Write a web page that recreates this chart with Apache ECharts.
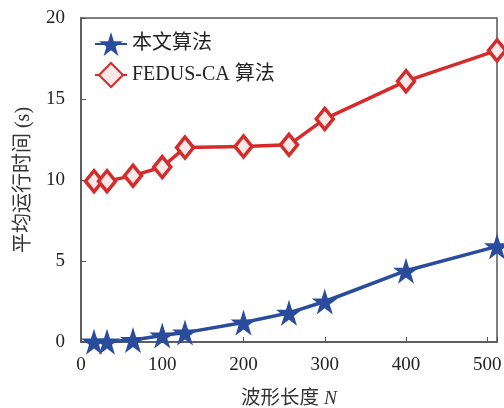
<!DOCTYPE html>
<html><head><meta charset="utf-8">
<script src="https://cdn.jsdelivr.net/npm/echarts@6/dist/echarts.min.js"></script>
<style>html,body{margin:0;padding:0;background:#fff}#c{width:504px;height:408px}</style>
</head><body><div id="c"></div>
<script>
const waveLengths = [16, 32, 64, 100, 128, 200, 256, 300, 400, 512];
const oursTime = [0.02, 0.02, 0.12, 0.4, 0.58, 1.2, 1.8, 2.5, 4.4, 5.9];
const fedusTime = [9.93, 9.93, 10.27, 10.8, 12.0, 12.07, 12.17, 13.77, 16.1, 18.0];
const seriesNames = ['本文算法', 'FEDUS-CA 算法'];
const xTicks = [0, 100, 200, 300, 400, 500];
const yTicks = [0, 5, 10, 15, 20];

const serif = "'Liberation Serif', 'Noto Sans CJK SC', serif";
const axisColor = '#555';
const star = 'path://M50,0 L61.2,34.5 L97.6,34.5 L68.2,55.9 L79.4,90.5 L50,69.1 L20.6,90.5 L31.8,55.9 L2.4,34.5 L38.8,34.5 Z';

const chart = echarts.init(document.getElementById('c'), null, {renderer: 'canvas'});
chart.setOption({
  animation: false,
  backgroundColor: '#fff',
  grid: {left: 81, right: 7, top: 18, bottom: 66, show: true, borderColor: axisColor, borderWidth: 1.5,
    backgroundColor: 'transparent', containLabel: false, outerBoundsMode: 'none'},
  legend: {
    orient: 'vertical', left: 89, top: 27, itemWidth: 32, itemHeight: 30, itemGap: 6,
    textStyle: {fontFamily: serif, fontSize: 20, color: '#222'},
    data: seriesNames
  },
  xAxis: {
    type: 'value', min: 0, max: 512, interval: 100,
    name: '波形长度 {i|N}', nameLocation: 'middle', nameGap: 47,
    nameTextStyle: {fontFamily: serif, fontSize: 19.5, color: '#333',
      rich: {i: {fontFamily: serif, fontSize: 19.5, fontStyle: 'italic', color: '#333'}}},
    axisLine: {lineStyle: {color: axisColor, width: 1.5}},
    axisTick: {inside: true, length: 5, lineStyle: {color: axisColor}},
    axisLabel: {fontFamily: serif, fontSize: 19, color: '#222', margin: 14,
      formatter: v => xTicks.includes(v) ? String(v) : ''},
    splitLine: {show: false}
  },
  yAxis: {
    type: 'value', min: 0, max: 20, interval: 5,
    name: '平均运行时间 (s)', nameLocation: 'middle', nameGap: 47,
    nameTextStyle: {fontFamily: serif, fontSize: 20, color: '#333'},
    axisLine: {lineStyle: {color: axisColor, width: 1.5}},
    axisTick: {inside: true, length: 5, lineStyle: {color: axisColor}},
    axisLabel: {fontFamily: serif, fontSize: 19, color: '#222', margin: 16,
      formatter: v => yTicks.includes(v) ? String(v) : ''},
    splitLine: {show: false}
  },
  series: [
    {
      name: seriesNames[0], type: 'line',
      data: waveLengths.map((x, i) => [x, oursTime[i]]),
      symbol: star, symbolSize: 26,
      lineStyle: {color: '#2a4c9c', width: 3.5},
      itemStyle: {color: '#2a4c9c'},
      z: 3
    },
    {
      name: seriesNames[1], type: 'line',
      data: waveLengths.map((x, i) => [x, fedusTime[i]]),
      symbol: 'diamond', symbolSize: [17, 21],
      lineStyle: {color: '#d62b2b', width: 3.5},
      itemStyle: {color: '#fbe9e9', borderColor: '#d62b2b', borderWidth: 3.5},
      z: 2
    }
  ]
});
</script></body></html>
